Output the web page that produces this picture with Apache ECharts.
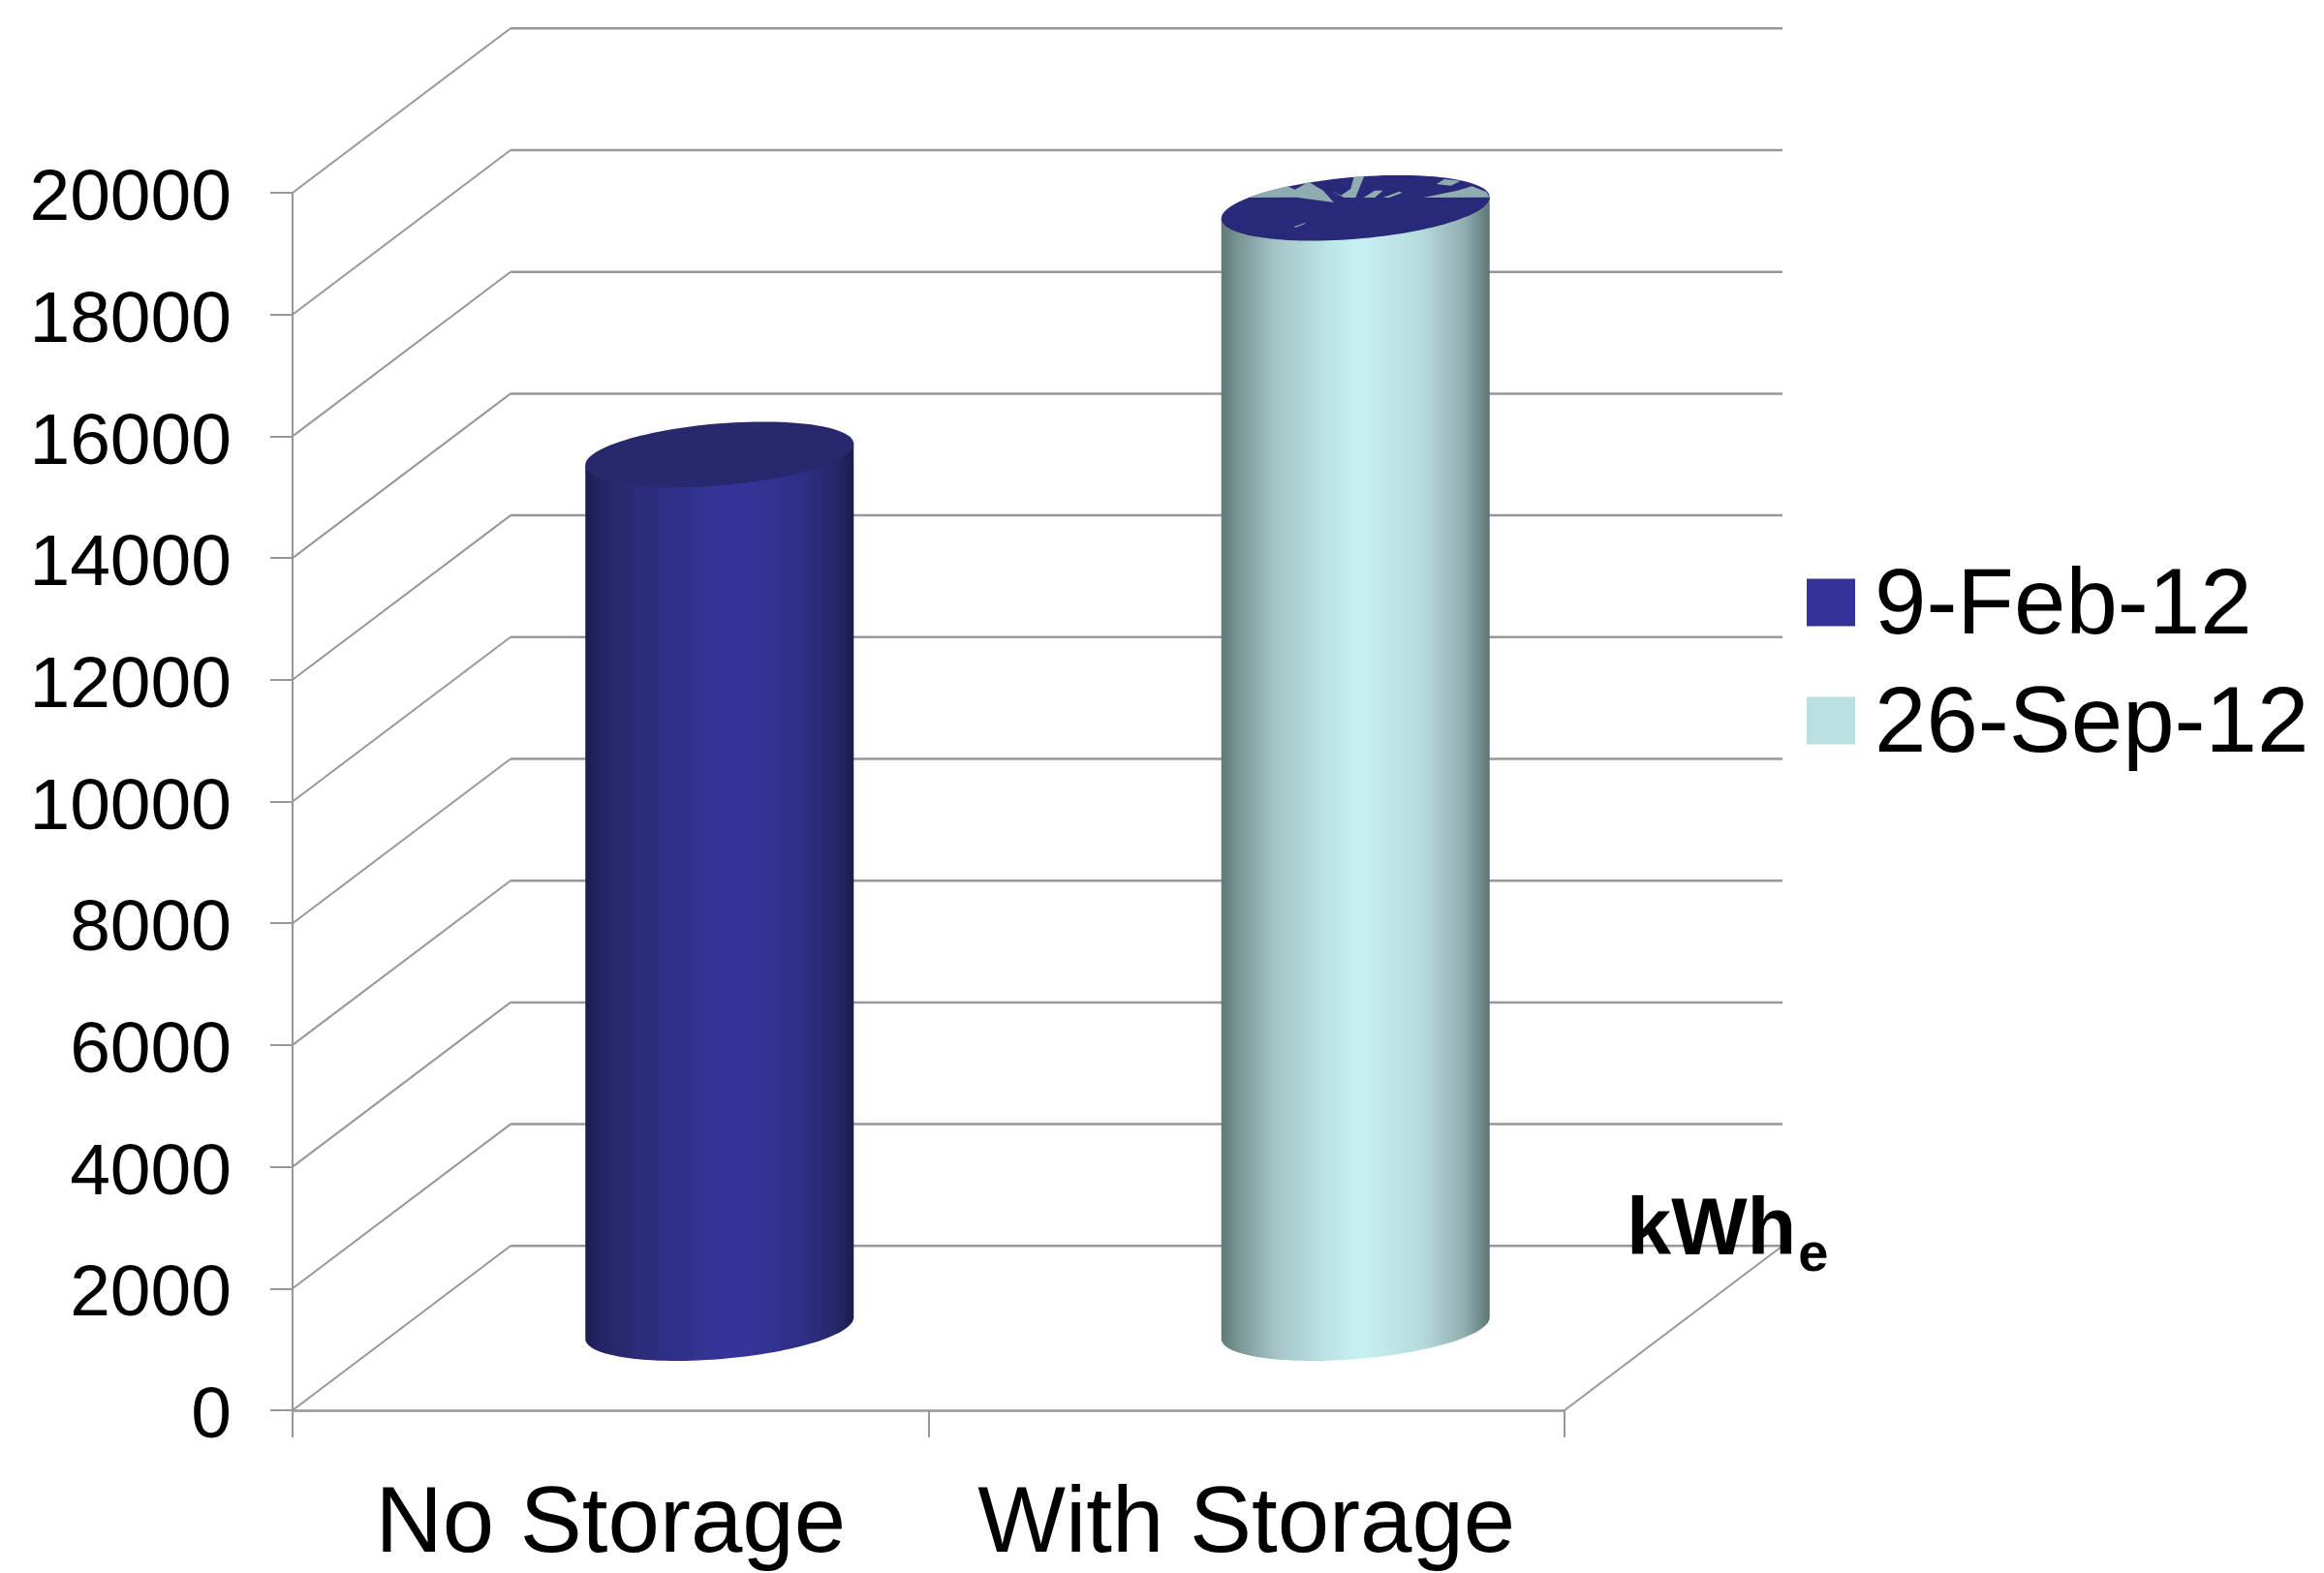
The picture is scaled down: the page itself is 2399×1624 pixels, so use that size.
<!DOCTYPE html>
<html><head><meta charset="utf-8">
<script src="https://cdn.jsdelivr.net/npm/echarts@6/dist/echarts.min.js"></script>
<style>html,body{margin:0;padding:0;background:#fff}#c{width:2399px;height:1624px}</style>
</head><body><div id="c"></div>
<script>
const categories = ['No Storage', 'With Storage'];
const feb12 = [14350, null];
const sep12 = [null, 18400];
const yTicks = [0, 2000, 4000, 6000, 8000, 10000, 12000, 14000, 16000, 18000, 20000];

const FONT = '"Liberation Sans", Arial, sans-serif';
const DX = 225, DY = -169.7;
const GRID = '#979797';
const K1 = 0.0794, K2 = 0.231, WIDTH_FRAC = 0.211;
const BLUE_STOPS = [[0,'#1c1c52'],[0.04,'#232361'],[0.15,'#2a2a72'],[0.3,'#2f2f85'],[0.5,'#353599'],[0.6,'#353599'],[0.8,'#2f2f87'],[0.93,'#27276a'],[1,'#1c1c50']];
const TEAL_STOPS = [[0,'#5f7878'],[0.05,'#75908f'],[0.2,'#a3c4c5'],[0.4,'#bde4e6'],[0.52,'#c8f0f2'],[0.75,'#b5dadc'],[0.9,'#93b0b2'],[1,'#5d7675']];
const SHARDS = [
  [[-330,-32],[-275,-51],[-210,-67],[-187,-57],[-145,-81],[-100,-54],[-67,-17],[-183,-33]],
  [[-80,-54],[-45,-39],[-15,-59],[-5,-96],[27,-99],[0,-32],[-35,-32]],
  [[25,-32],[60,-54],[85,-54],[60,-32]],
  [[85,-32],[135,-51],[145,-47],[105,-32]],
  [[210,-32],[315,-54],[360,-67],[405,-49],[415,-33]],
  [[250,-74],[275,-89],[325,-84],[295,-69]],
  [[-190,58],[-155,46],[-155,49],[-187,61]]
];

function cylinder(stops, topColor, shards) {
  return function (params, api) {
    const i = api.value(0), v = api.value(1);
    const base = api.coord([i, 0]), top = api.coord([i, v]);
    const a = api.size([1, 0])[0] * WIDTH_FRAC;
    const cx = base[0] + DX / 2, by = base[1] + DY / 2, ty = top[1] + DY / 2;
    const pt = (y, t) => [cx + a * Math.cos(t), y - K1 * a * Math.cos(t) - K2 * a * Math.sin(t)];
    const body = [pt(ty, Math.PI)];
    for (let n = 0; n <= 60; n++) body.push(pt(by, Math.PI + Math.PI * n / 60));
    body.push(pt(ty, 0));
    const cap = [];
    for (let n = 0; n < 120; n++) cap.push(pt(ty, 2 * Math.PI * n / 120));
    const children = [
      { type: 'polygon', shape: { points: body },
        style: { fill: new echarts.graphic.LinearGradient(0, 0, 1, 0, stops.map(s => ({ offset: s[0], color: s[1] }))) } },
      { type: 'polygon', shape: { points: cap }, style: { fill: topColor } }
    ];
    (shards || []).forEach(s => children.push({
      type: 'polygon',
      shape: { points: s.map(p => [cx + p[0] / 415 * a, ty + p[1] / 415 * a]) },
      style: { fill: '#8fadb0' }
    }));
    return { type: 'group', children };
  };
}

function walls(params, api) {
  const cs = params.coordSys, v = api.value(1);
  const y = api.coord([0, v])[1];
  const line = (x1, y1, x2, y2, w) => ({ type: 'line', shape: { x1, y1, x2, y2 }, style: { stroke: GRID, lineWidth: w, fill: null } });
  const ch = [
    line(cs.x, y, cs.x + DX, y + DY, 2),
    line(cs.x + DX, y + DY, cs.x + cs.width + DX, y + DY, 2.5)
  ];
  if (v === 0) ch.push(line(cs.x + cs.width, y, cs.x + cs.width + DX, y + DY, 2));
  return { type: 'group', children: ch };
}

const toPoints = arr => arr.map((v, i) => [i, v]).filter(p => p[1] !== null);

const chart = echarts.init(document.getElementById('c'), null, { renderer: 'canvas', width: 2399, height: 1624 });
chart.setOption({
  animation: false,
  backgroundColor: '#ffffff',
  title: {
    text: '{k|kWh}{e|e}', left: 1674, top: 1214,
    textStyle: { rich: {
      k: { fontFamily: FONT, fontWeight: 'bold', fontSize: 83, color: '#000' },
      e: { fontFamily: FONT, fontWeight: 'bold', fontSize: 56, color: '#000', padding: [50, 0, 0, 2] }
    } }
  },
  legend: {
    orient: 'vertical', left: 1860, top: 575, itemGap: 26, itemWidth: 50, itemHeight: 49, icon: 'rect',
    selectedMode: false,
    data: [
      { name: '9-Feb-12', itemStyle: { color: '#343399' } },
      { name: '26-Sep-12', itemStyle: { color: '#bae0e2' } }
    ],
    formatter: name => '{t|' + name + '}',
    textStyle: { fontFamily: FONT, fontSize: 96, color: '#000',
      rich: { t: { fontFamily: FONT, fontSize: 96, color: '#000', padding: [12, 0, 0, 15] } } }
  },
  grid: { left: 302, top: 199, width: 1313, height: 1259.5, containLabel: false },
  xAxis: {
    type: 'category', data: categories,
    axisLine: { lineStyle: { color: GRID, width: 2.5 } },
    axisTick: { show: true, interval: 0, alignWithLabel: false, length: 28, lineStyle: { color: GRID, width: 2 } },
    axisLabel: { fontFamily: FONT, fontSize: 96, color: '#000', margin: 72, interval: 0, hideOverlap: false }
  },
  yAxis: {
    type: 'value', min: 0, max: 20000, interval: 2000,
    axisLine: { show: true, lineStyle: { color: GRID, width: 2 } },
    axisTick: { show: true, length: 23, lineStyle: { color: GRID, width: 2 } },
    axisLabel: { fontFamily: FONT, fontSize: 75, color: '#000', margin: 63, formatter: v => '{t|' + v + '}',
      rich: { t: { fontFamily: FONT, fontSize: 75, color: '#000', padding: [15, 0, 0, 0] } } },
    splitLine: { show: false }
  },
  series: [
    { type: 'custom', name: 'walls', silent: true, z: 1, renderItem: walls,
      encode: { x: 0, y: 1 }, data: yTicks.map(v => [0, v]) },
    { type: 'custom', name: '9-Feb-12', z: 3, renderItem: cylinder(BLUE_STOPS, '#28286f'),
      itemStyle: { color: '#343399' }, encode: { x: 0, y: 1 }, data: toPoints(feb12) },
    { type: 'custom', name: '26-Sep-12', z: 3, renderItem: cylinder(TEAL_STOPS, '#29297a', SHARDS),
      itemStyle: { color: '#bae0e2' }, encode: { x: 0, y: 1 }, data: toPoints(sep12) }
  ]
});
</script></body></html>
